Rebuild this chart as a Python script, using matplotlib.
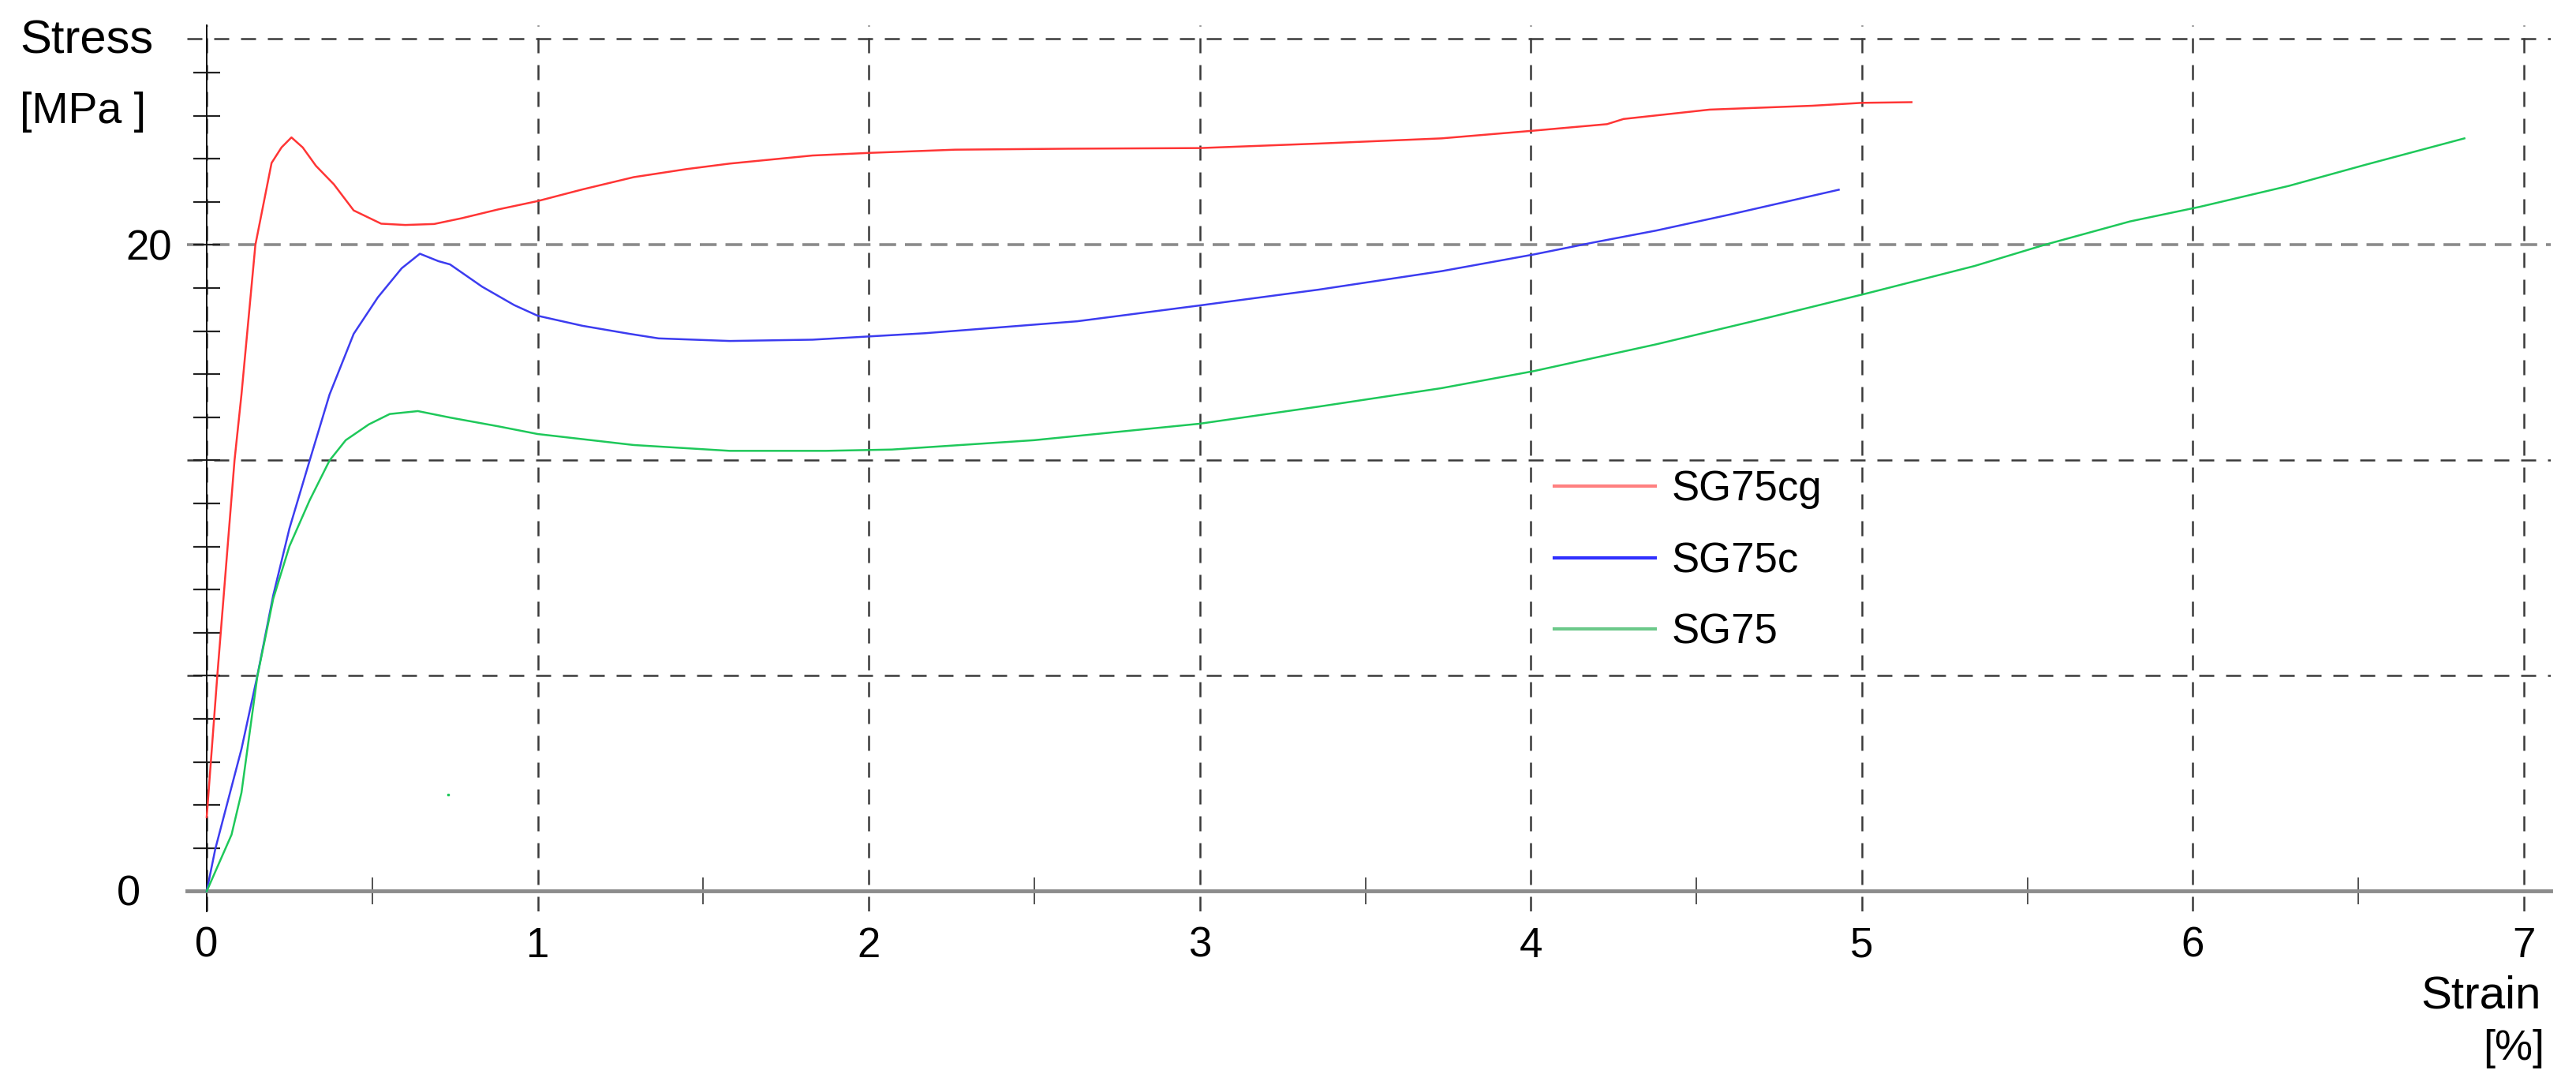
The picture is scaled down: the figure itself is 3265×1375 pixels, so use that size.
import numpy as np
import matplotlib
matplotlib.use("Agg")
import matplotlib.pyplot as plt

plt.rcParams['font.family'] = ['Liberation Sans', 'DejaVu Sans']

# stress-strain curves: strain [%], stress [MPa]
sg75cg_strain = [0.0, 0.032, 0.084, 0.105, 0.147, 0.196, 0.226, 0.256, 0.29, 0.33, 0.384,
                 0.444, 0.527, 0.60, 0.687, 0.771, 0.88, 1.0, 1.135, 1.29, 1.45, 1.58, 1.83,
                 2.0, 2.26, 2.6, 3.0, 3.36, 3.73, 4.01, 4.23, 4.28, 4.54, 4.85, 5.0, 5.15]
sg75cg_stress = [2.29, 6.67, 13.33, 15.37, 20.0, 22.54, 23.02, 23.33, 23.02, 22.45, 21.88,
                 21.07, 20.66, 20.62, 20.65, 20.83, 21.1, 21.36, 21.72, 22.1, 22.35, 22.52, 22.77,
                 22.85, 22.95, 22.98, 23.0, 23.14, 23.3, 23.54, 23.74, 23.9, 24.19, 24.31, 24.4, 24.42]

sg75c_strain = [0.0, 0.026, 0.105, 0.153, 0.201, 0.25, 0.311, 0.371, 0.444, 0.517, 0.589,
                0.644, 0.70, 0.735, 0.832, 0.929, 1.0, 1.135, 1.278, 1.365, 1.58, 1.83, 2.0,
                2.17, 2.63, 3.0, 3.36, 3.73, 4.01, 4.19, 4.38, 4.6, 4.93]
sg75c_stress = [0.0, 1.31, 4.4, 6.67, 9.16, 11.23, 13.33, 15.37, 17.25, 18.38, 19.28,
                19.73, 19.5, 19.4, 18.71, 18.14, 17.81, 17.5, 17.25, 17.11, 17.03, 17.07, 17.17,
                17.27, 17.64, 18.13, 18.62, 19.19, 19.71, 20.08, 20.45, 20.94, 21.71]

sg75_strain = [0.0, 0.06, 0.075, 0.105, 0.153, 0.201, 0.25, 0.311, 0.371, 0.42, 0.49, 0.553,
               0.638, 0.735, 0.88, 1.0, 1.29, 1.58, 1.87, 2.07, 2.5, 3.0, 3.36, 3.73, 4.01,
               4.38, 4.72, 5.01, 5.34, 5.55, 5.81, 6.02, 6.29, 6.52, 6.82]
sg75_stress = [0.0, 1.4, 1.75, 3.05, 6.65, 9.05, 10.68, 12.1, 13.33, 13.96, 14.45, 14.77,
               14.86, 14.66, 14.39, 14.15, 13.81, 13.63, 13.63, 13.67, 13.96, 14.47, 15.0, 15.57, 16.1,
               16.93, 17.76, 18.49, 19.35, 20.0, 20.73, 21.18, 21.83, 22.48, 23.3]

labels = ['SG75cg', 'SG75c', 'SG75']
curve_colors = ['#ff3535', '#3c3cf0', '#1ec85a']
legend_colors = ['#ff8080', '#3030ff', '#6cc98a']

x_ticks = [0, 1, 2, 3, 4, 5, 6, 7]
x_tick_labels = ['0', '1', '2', '3', '4', '5', '6', '7']

fig = plt.figure(figsize=(32.65, 13.75), dpi=100)
ax = fig.add_axes([0.07253, 0.1598, 0.91755, 0.8169])
ax.set_xlim(-0.06, 7.08)
ax.set_ylim(-0.63, 26.8)

# axes: y axis at strain 0, thick grey zero line
ax.spines['top'].set_visible(False)
ax.spines['right'].set_visible(False)
ax.spines['left'].set_position(('data', 0))
ax.spines['left'].set_color('#111111')
ax.spines['left'].set_linewidth(1.4)
ax.spines['bottom'].set_position(('data', 0))
ax.spines['bottom'].set_color('#8c8c8c')
ax.spines['bottom'].set_linewidth(3.5)

# grid
dash = (0, (7.6, 6.0))
ax.set_xticks(x_ticks, x_tick_labels)
ax.set_xticks(np.arange(0.5, 7, 1.0), minor=True)
ax.grid(axis='x', which='major', color='#3a3a3a', linestyle=dash, linewidth=1.8)
for lev in [20 / 3, 40 / 3, 26.38]:
    ax.axhline(lev, color='#3a3a3a', linestyle=dash, linewidth=1.8, zorder=1)
ax.axhline(20, color='#8a8a8a', linestyle=(0, (5.9, 3.1)), linewidth=2.6, zorder=1)

ax.tick_params(axis='x', which='major', length=0, pad=32, labelsize=38)
ax.tick_params(axis='x', which='minor', direction='inout', length=25, width=1.3, color='#444444')

ax.set_yticks([20], ['20'])
ax.set_yticks(np.arange(1, 20) * 4 / 3, minor=True)
ax.tick_params(axis='y', which='both', direction='inout', length=24, width=1.6, color='#222222')
ax.tick_params(axis='y', which='major', pad=20, labelsize=38)
ax.text(-0.2, -0.45, '0', ha='right', va='baseline', fontsize=39)

# curves
for xs, ys, lab, col in zip([sg75cg_strain, sg75c_strain, sg75_strain],
                            [sg75cg_stress, sg75c_stress, sg75_stress], labels, curve_colors):
    ax.plot(xs, ys, color=col, linewidth=1.8, label=lab, zorder=3)
ax.plot([0.73], [3.0], marker='s', markersize=1.5, color='#1ec85a', linestyle='none')

leg = ax.legend(loc='center left', bbox_to_anchor=(1970 / 3265, 1 - 711 / 1375),
                bbox_transform=fig.transFigure, frameon=False, fontsize=38,
                handlelength=2.42, handletextpad=0.4, labelspacing=0.77,
                borderpad=0, borderaxespad=0)
for line, c in zip(leg.get_lines(), legend_colors):
    line.set_color(c)
    line.set_linewidth(3)

# axis titles
fig.text(25 / 3265, 1 - 68 / 1375, 'Stress', fontsize=43, ha='left', va='baseline')
fig.text(25 / 3265, 1 - 156 / 1375, '[MPa ]', fontsize=40, ha='left', va='baseline')
fig.text(3221 / 3265, 1 - 1277 / 1375, 'Strain', fontsize=42, ha='right', va='baseline')
fig.text(3225 / 3265, 1 - 1343 / 1375, '[%]', fontsize=39, ha='right', va='baseline')

fig.savefig('out.png', dpi=100)
